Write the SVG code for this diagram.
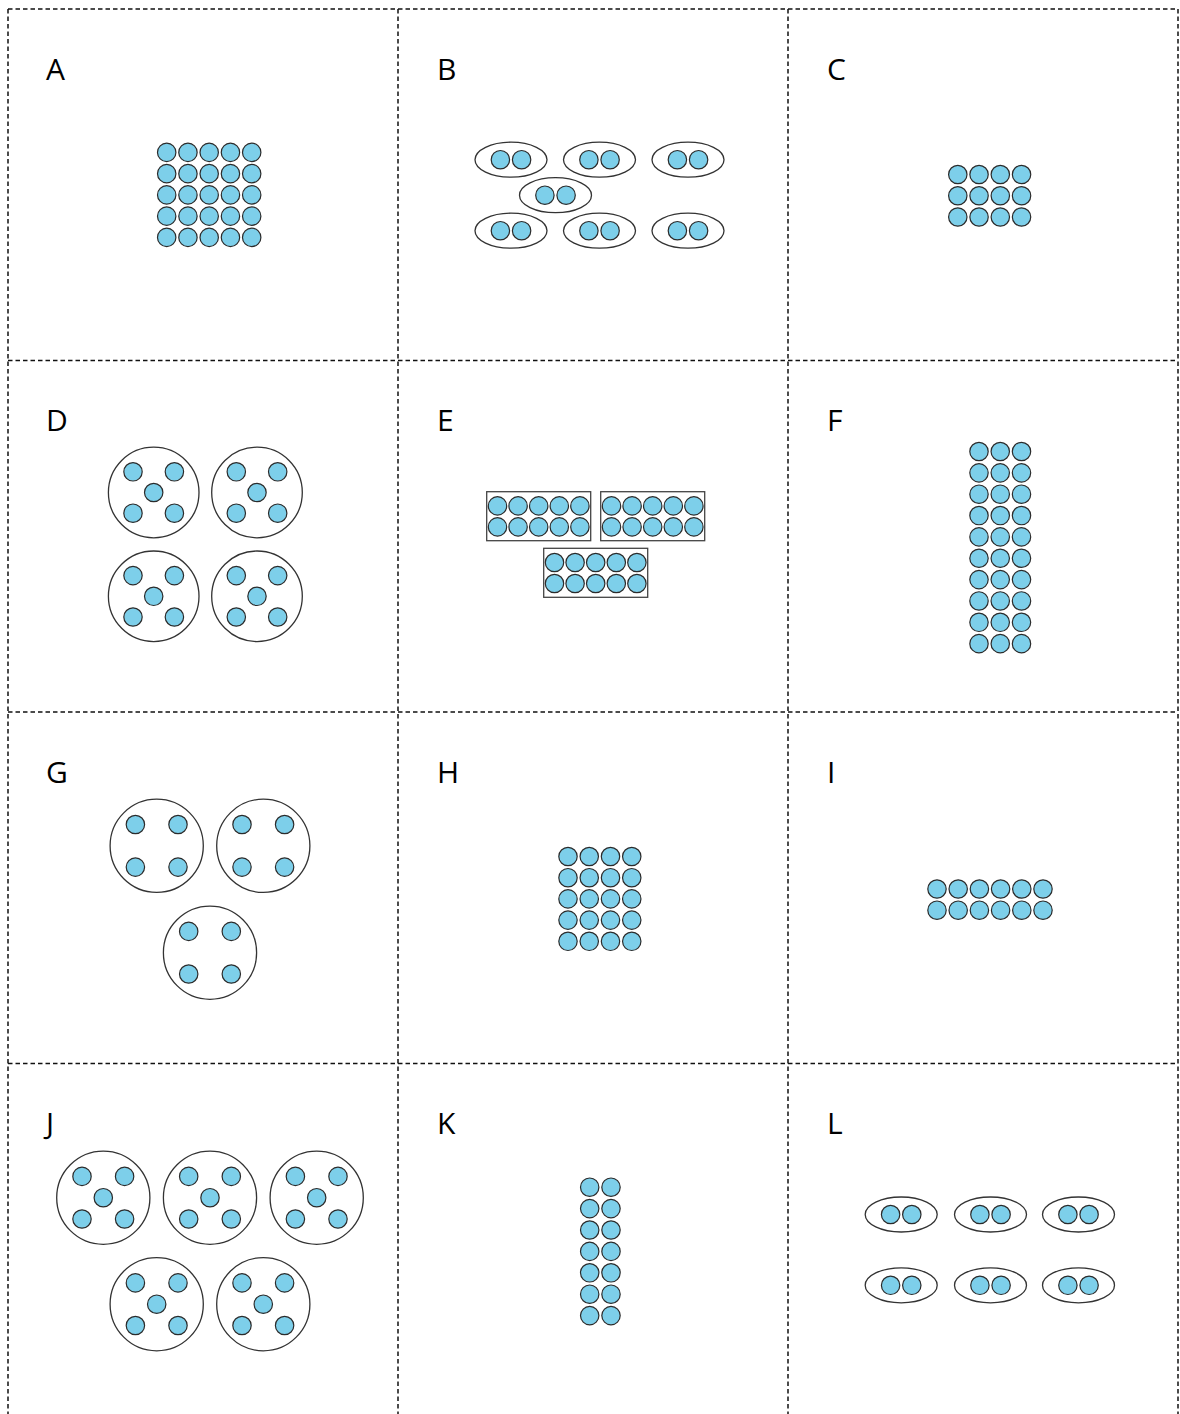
<svg xmlns="http://www.w3.org/2000/svg" xmlns:xlink="http://www.w3.org/1999/xlink" width="1180" height="1414" viewBox="0 0 1180 1414">
<style>
.grid{stroke:#111;stroke-width:1.5;stroke-dasharray:4.5 3;fill:none}
.lbl{font-family:"Open Sans","Noto Sans","Liberation Sans",sans-serif;font-size:30px;fill:#000}
.dot{fill:#7dcfea;stroke:#2b2b2b;stroke-width:1.2}
.ring{fill:#fff;stroke:#333;stroke-width:1.3}
.box{fill:#fff;stroke:#444;stroke-width:1.3}
</style>
<defs>
<circle id="d" class="dot" r="9.2"/>
<g id="pair"><ellipse class="ring" rx="36" ry="17.5"/><use href="#d" x="-10.6"/><use href="#d" x="10.6"/></g>
<g id="q5d"><circle class="ring" r="45.3"/><use href="#d" x="-20.7" y="-20.7"/><use href="#d" x="20.7" y="-20.7"/><use href="#d"/><use href="#d" x="-20.7" y="20.7"/><use href="#d" x="20.7" y="20.7"/></g>
<g id="q4"><circle class="ring" r="46.6"/><use href="#d" x="-21.3" y="-21.3"/><use href="#d" x="21.3" y="-21.3"/><use href="#d" x="-21.3" y="21.3"/><use href="#d" x="21.3" y="21.3"/></g>
<g id="q5j"><circle class="ring" r="46.6"/><use href="#d" x="-21.3" y="-21.3"/><use href="#d" x="21.3" y="-21.3"/><use href="#d"/><use href="#d" x="-21.3" y="21.3"/><use href="#d" x="21.3" y="21.3"/></g>
<g id="row5"><use href="#d" x="0"/><use href="#d" x="20.6"/><use href="#d" x="41.2"/><use href="#d" x="61.8"/><use href="#d" x="82.4"/></g>
<g id="frame"><rect class="box" x="0" y="0" width="104" height="49"/><use href="#row5" x="10.8" y="14.2"/><use href="#row5" x="10.8" y="35.2"/></g>
</defs>

<g id="grid">
<line class="grid" x1="8" y1="9" x2="8" y2="1414"/>
<line class="grid" x1="398" y1="9" x2="398" y2="1414"/>
<line class="grid" x1="788" y1="9" x2="788" y2="1414"/>
<line class="grid" x1="1178" y1="9" x2="1178" y2="1414"/>
<line class="grid" x1="8" y1="9" x2="1178" y2="9"/>
<line class="grid" x1="8" y1="360.5" x2="1178" y2="360.5"/>
<line class="grid" x1="8" y1="712" x2="1178" y2="712"/>
<line class="grid" x1="8" y1="1063.5" x2="1178" y2="1063.5"/>
</g>

<g id="A">
<text class="lbl" x="46" y="80">A</text>
<g transform="translate(166.7,152.4)">
<use href="#d" x="0" y="0"/><use href="#d" x="21.25" y="0"/><use href="#d" x="42.5" y="0"/><use href="#d" x="63.75" y="0"/><use href="#d" x="85" y="0"/>
<use href="#d" x="0" y="21.25"/><use href="#d" x="21.25" y="21.25"/><use href="#d" x="42.5" y="21.25"/><use href="#d" x="63.75" y="21.25"/><use href="#d" x="85" y="21.25"/>
<use href="#d" x="0" y="42.5"/><use href="#d" x="21.25" y="42.5"/><use href="#d" x="42.5" y="42.5"/><use href="#d" x="63.75" y="42.5"/><use href="#d" x="85" y="42.5"/>
<use href="#d" x="0" y="63.75"/><use href="#d" x="21.25" y="63.75"/><use href="#d" x="42.5" y="63.75"/><use href="#d" x="63.75" y="63.75"/><use href="#d" x="85" y="63.75"/>
<use href="#d" x="0" y="85"/><use href="#d" x="21.25" y="85"/><use href="#d" x="42.5" y="85"/><use href="#d" x="63.75" y="85"/><use href="#d" x="85" y="85"/>
</g>
</g>

<g id="B">
<text class="lbl" x="437" y="80">B</text>
<use href="#pair" x="511" y="159.7"/><use href="#pair" x="599.5" y="159.7"/><use href="#pair" x="688" y="159.7"/>
<use href="#pair" x="555.5" y="195.2"/>
<use href="#pair" x="511" y="230.7"/><use href="#pair" x="599.5" y="230.7"/><use href="#pair" x="688" y="230.7"/>
</g>

<g id="C">
<text class="lbl" x="827" y="80">C</text>
<g transform="translate(957.8,174.5)">
<use href="#d" x="0" y="0"/><use href="#d" x="21.25" y="0"/><use href="#d" x="42.5" y="0"/><use href="#d" x="63.75" y="0"/>
<use href="#d" x="0" y="21.25"/><use href="#d" x="21.25" y="21.25"/><use href="#d" x="42.5" y="21.25"/><use href="#d" x="63.75" y="21.25"/>
<use href="#d" x="0" y="42.5"/><use href="#d" x="21.25" y="42.5"/><use href="#d" x="42.5" y="42.5"/><use href="#d" x="63.75" y="42.5"/>
</g>
</g>

<g id="D">
<text class="lbl" x="46" y="431">D</text>
<use href="#q5d" x="153.7" y="492.5"/><use href="#q5d" x="257" y="492.5"/>
<use href="#q5d" x="153.7" y="596.3"/><use href="#q5d" x="257" y="596.3"/>
</g>

<g id="E">
<text class="lbl" x="437" y="431">E</text>
<use href="#frame" x="486.7" y="491.7"/>
<use href="#frame" x="600.7" y="491.7"/>
<use href="#frame" x="543.7" y="548.3"/>
</g>

<g id="F">
<text class="lbl" x="827" y="431">F</text>
<g transform="translate(979,451.5)">
<use href="#d" x="0" y="0"/><use href="#d" x="21.25" y="0"/><use href="#d" x="42.5" y="0"/>
<use href="#d" x="0" y="21.35"/><use href="#d" x="21.25" y="21.35"/><use href="#d" x="42.5" y="21.35"/>
<use href="#d" x="0" y="42.7"/><use href="#d" x="21.25" y="42.7"/><use href="#d" x="42.5" y="42.7"/>
<use href="#d" x="0" y="64.05"/><use href="#d" x="21.25" y="64.05"/><use href="#d" x="42.5" y="64.05"/>
<use href="#d" x="0" y="85.4"/><use href="#d" x="21.25" y="85.4"/><use href="#d" x="42.5" y="85.4"/>
<use href="#d" x="0" y="106.75"/><use href="#d" x="21.25" y="106.75"/><use href="#d" x="42.5" y="106.75"/>
<use href="#d" x="0" y="128.1"/><use href="#d" x="21.25" y="128.1"/><use href="#d" x="42.5" y="128.1"/>
<use href="#d" x="0" y="149.45"/><use href="#d" x="21.25" y="149.45"/><use href="#d" x="42.5" y="149.45"/>
<use href="#d" x="0" y="170.8"/><use href="#d" x="21.25" y="170.8"/><use href="#d" x="42.5" y="170.8"/>
<use href="#d" x="0" y="192.15"/><use href="#d" x="21.25" y="192.15"/><use href="#d" x="42.5" y="192.15"/>
</g>
</g>

<g id="G">
<text class="lbl" x="46" y="783">G</text>
<use href="#q4" x="156.7" y="845.8"/><use href="#q4" x="263.3" y="845.8"/>
<use href="#q4" x="210" y="952.7"/>
</g>

<g id="H">
<text class="lbl" x="437" y="783">H</text>
<g transform="translate(568,856.5)">
<use href="#d" x="0" y="0"/><use href="#d" x="21.25" y="0"/><use href="#d" x="42.5" y="0"/><use href="#d" x="63.75" y="0"/>
<use href="#d" x="0" y="21.2"/><use href="#d" x="21.25" y="21.2"/><use href="#d" x="42.5" y="21.2"/><use href="#d" x="63.75" y="21.2"/>
<use href="#d" x="0" y="42.4"/><use href="#d" x="21.25" y="42.4"/><use href="#d" x="42.5" y="42.4"/><use href="#d" x="63.75" y="42.4"/>
<use href="#d" x="0" y="63.6"/><use href="#d" x="21.25" y="63.6"/><use href="#d" x="42.5" y="63.6"/><use href="#d" x="63.75" y="63.6"/>
<use href="#d" x="0" y="84.8"/><use href="#d" x="21.25" y="84.8"/><use href="#d" x="42.5" y="84.8"/><use href="#d" x="63.75" y="84.8"/>
</g>
</g>

<g id="I">
<text class="lbl" x="827" y="783">I</text>
<g transform="translate(937,889)">
<use href="#d" x="0" y="0"/><use href="#d" x="21.2" y="0"/><use href="#d" x="42.4" y="0"/><use href="#d" x="63.6" y="0"/><use href="#d" x="84.8" y="0"/><use href="#d" x="106" y="0"/>
<use href="#d" x="0" y="21.2"/><use href="#d" x="21.2" y="21.2"/><use href="#d" x="42.4" y="21.2"/><use href="#d" x="63.6" y="21.2"/><use href="#d" x="84.8" y="21.2"/><use href="#d" x="106" y="21.2"/>
</g>
</g>

<g id="J">
<text class="lbl" x="46" y="1134">J</text>
<use href="#q5j" x="103.3" y="1197.7"/><use href="#q5j" x="210" y="1197.7"/><use href="#q5j" x="316.7" y="1197.7"/>
<use href="#q5j" x="156.7" y="1304.2"/><use href="#q5j" x="263.3" y="1304.2"/>
</g>

<g id="K">
<text class="lbl" x="437" y="1134">K</text>
<g transform="translate(589.7,1187.2)">
<use href="#d" x="0" y="0"/><use href="#d" x="21.3" y="0"/>
<use href="#d" x="0" y="21.4"/><use href="#d" x="21.3" y="21.4"/>
<use href="#d" x="0" y="42.8"/><use href="#d" x="21.3" y="42.8"/>
<use href="#d" x="0" y="64.2"/><use href="#d" x="21.3" y="64.2"/>
<use href="#d" x="0" y="85.6"/><use href="#d" x="21.3" y="85.6"/>
<use href="#d" x="0" y="107"/><use href="#d" x="21.3" y="107"/>
<use href="#d" x="0" y="128.4"/><use href="#d" x="21.3" y="128.4"/>
</g>
</g>

<g id="L">
<text class="lbl" x="827" y="1134">L</text>
<use href="#pair" x="901.2" y="1214.5"/><use href="#pair" x="990.5" y="1214.5"/><use href="#pair" x="1078.5" y="1214.5"/>
<use href="#pair" x="901.2" y="1285.3"/><use href="#pair" x="990.5" y="1285.3"/><use href="#pair" x="1078.5" y="1285.3"/>
</g>
</svg>
